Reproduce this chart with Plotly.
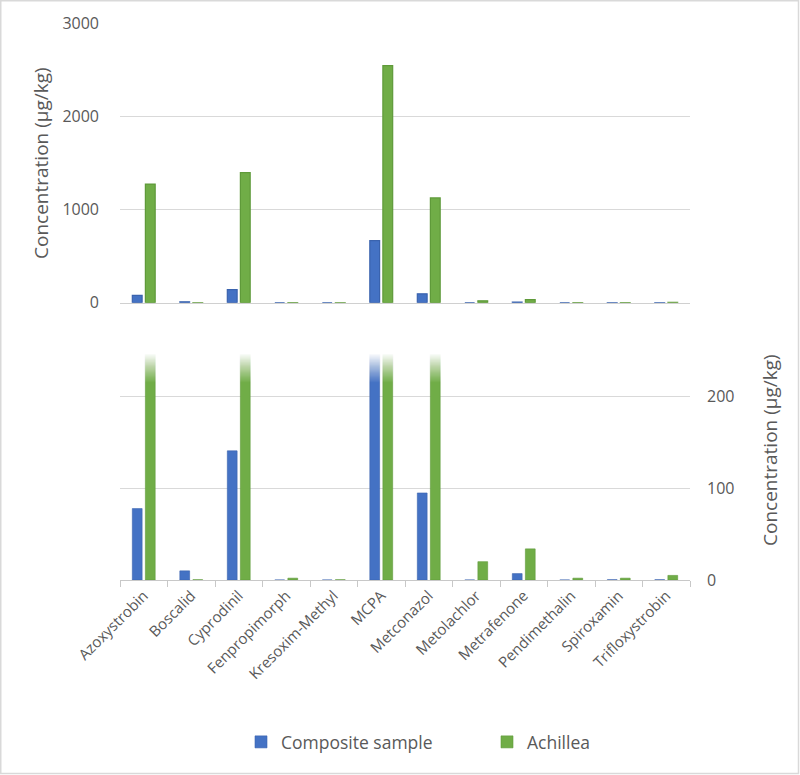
import plotly.graph_objects as go

categories = ["Azoxystrobin", "Boscalid", "Cyprodinil", "Fenpropimorph", "Kresoxim-Methyl",
              "MCPA", "Metconazol", "Metolachlor", "Metrafenone", "Pendimethalin",
              "Spiroxamin", "Trifloxystrobin"]
composite = [78, 10, 141, 0, 0, 666, 95, 0, 7, 0, 0.3, 0.3]
achillea = [1272, 0.3, 1396, 2, 0.3, 2542, 1124, 20, 34, 2, 2, 5]

series_names = ["Composite sample", "Achillea"]
blue, green = "#4472C4", "#70AD47"
blue_edge, green_edge = "#3A63AE", "#5F9A3A"

FONT = "Open Sans"
GRAY = "#595959"

fig = go.Figure()
# top panel
fig.add_trace(go.Bar(x=categories, y=composite, name=series_names[0], marker=dict(color=blue, line=dict(color=blue_edge, width=1.2)),
                     xaxis="x", yaxis="y", showlegend=False))
fig.add_trace(go.Bar(x=categories, y=achillea, name=series_names[1], marker=dict(color=green, line=dict(color=green_edge, width=1.2)),
                     xaxis="x", yaxis="y", showlegend=False))
# bottom panel (zoomed)
fig.add_trace(go.Bar(x=categories, y=composite, name=series_names[0], marker=dict(color=blue, line=dict(color=blue_edge, width=0.6)),
                     xaxis="x2", yaxis="y2"))
fig.add_trace(go.Bar(x=categories, y=achillea, name=series_names[1], marker=dict(color=green, line=dict(color=green_edge, width=0.6)),
                     xaxis="x2", yaxis="y2"))

W, H = 800, 775
ml, mr, mt, mb = 120, 110, 23, 195
pw, ph = W - ml - mr, H - mt - mb

def px_x(p):
    return (p - ml) / pw

def px_y(p):
    return (H - mb - p) / ph

top_lo = px_y(302.7)
bot_hi = px_y(351)

shapes = []
# fade band at top of lower panel (stacked white layers, cumulative coverage ramps linearly)
n = 24
lo, hi = 216, 248
prev_T = 1.0
for i in range(1, n + 1):
    T = 1.0 - i / n
    a = 1.0 - (T / prev_T if prev_T > 0 else 0)
    prev_T = T
    y0 = lo + (hi - lo) * (i - 1) / n
    shapes.append(dict(type="rect", xref="x2 domain", yref="y2", x0=0, x1=1, y0=y0, y1=252,
                       fillcolor="white", opacity=a, line=dict(width=0), layer="above"))
# outer border
shapes.append(dict(type="rect", xref="paper", yref="paper", x0=px_x(0.75), x1=px_x(798.5),
                   y0=px_y(773.5), y1=px_y(0.75), line=dict(color="#D9D9D9", width=1.5),
                   fillcolor="rgba(0,0,0,0)", layer="below"))

fig.update_layout(
    width=W, height=H,
    margin=dict(l=ml, r=mr, t=mt, b=mb, autoexpand=False),
    paper_bgcolor="white", plot_bgcolor="white",
    barmode="group", bargap=0.45, bargroupgap=0.25,
    font=dict(family=FONT, color=GRAY, size=14),
    xaxis=dict(domain=[0, 1], anchor="y", showticklabels=False, ticks="", showgrid=False,
               showline=True, linecolor="#D0D0D0", linewidth=1.2, zeroline=False, automargin=False),
    yaxis=dict(domain=[top_lo, 1], range=[0, 3000], tickvals=[0, 1000, 2000, 3000], showgrid=True,
               gridcolor="#D9D9D9", gridwidth=1.2, zeroline=False, showline=False, ticks="",
               tickfont=dict(size=16, color=GRAY), ticklabelstandoff=20, automargin=False),
    xaxis2=dict(domain=[0, 1], anchor="y2", tickangle=-45, tickson="boundaries", ticks="outside",
                ticklen=6, tickcolor="#C8C8C8", showgrid=False, showline=True, linecolor="#C8C8C8",
                linewidth=1.2, tickfont=dict(size=15, color=GRAY), automargin=False),
    yaxis2=dict(domain=[0, bot_hi], range=[0, 250], tickvals=[0, 100, 200], side="right",
                showgrid=True, gridcolor="#D9D9D9", gridwidth=1.2, zeroline=False, showline=False,
                ticks="", tickfont=dict(size=16, color=GRAY), ticklabelstandoff=16, automargin=False),
    legend=dict(orientation="h", x=px_x(487), xanchor="center", y=px_y(742), yanchor="middle",
                font=dict(size=17.5, color=GRAY), itemwidth=30, entrywidth=201, traceorder="normal"),
    shapes=shapes,
    annotations=[
        dict(text="Concentration (µg/kg)", xref="paper", yref="paper", x=px_x(41), y=px_y(163),
             showarrow=False, textangle=-90, font=dict(size=19, color=GRAY), xanchor="center", yanchor="middle"),
        dict(text="Concentration (µg/kg)", xref="paper", yref="paper", x=px_x(770), y=px_y(450),
             showarrow=False, textangle=-90, font=dict(size=19, color=GRAY), xanchor="center", yanchor="middle"),
    ],
)

fig.write_html("out.html", config={"displayModeBar": False},
               post_script="document.body.style.margin='0';document.body.style.overflow='hidden';")
